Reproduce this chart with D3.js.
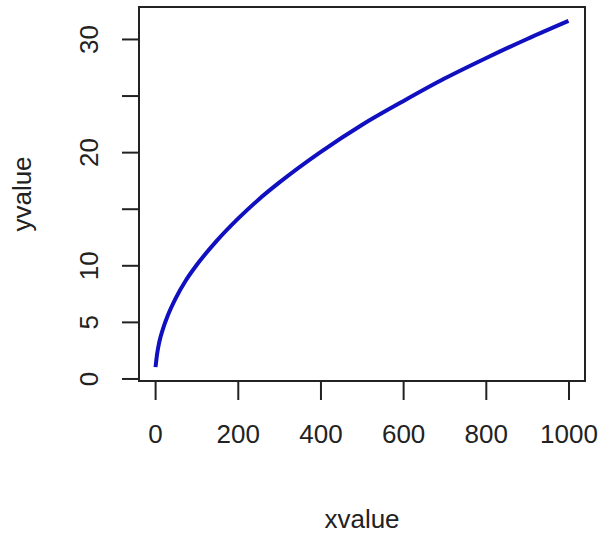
<!DOCTYPE html>
<html>
<head>
<meta charset="utf-8">
<script src="https://cdn.jsdelivr.net/npm/d3@7"></script>
<style>
  body { margin: 0; background: #fff; }
  svg text { font-family: "Liberation Sans", Arial, sans-serif; fill: #222; }
</style>
</head>
<body>
<div id="chart"></div>
<script>
// values
const xValues = [1, 5, 10, 20, 30, 50, 75, 100, 150, 200, 250, 300, 400, 500, 600, 700, 800, 900, 1000];
const yValues = [1, 2.2, 3.2, 4.5, 5.5, 7.1, 8.7, 10, 12.2, 14.1, 15.8, 17.3, 20, 22.4, 24.5, 26.5, 28.3, 30, 31.6];
const xTicks = [0, 200, 400, 600, 800, 1000];
const yTicks = [0, 5, 10, 15, 20, 25, 30];
const yLabelled = [0, 5, 10, 20, 30];

const w = 600;
const h = 535;
const box = {left: 139, right: 585, top: 7, bottom: 381};

const points = xValues.map((x, i) => ({x: x, y: yValues[i]}));

//R style 4% padding around the data range
const xPad = (d3.max(xValues) - d3.min(xValues)) * 0.04;
const yPad = (d3.max(yValues) - d3.min(yValues)) * 0.04;

const xScale = d3.scaleLinear()
    .domain([d3.min(xValues) - xPad, d3.max(xValues) + xPad])
    .range([box.left, box.right]);

const yScale = d3.scaleLinear()
    .domain([d3.min(yValues) - yPad, d3.max(yValues) + yPad])
    .range([box.bottom, box.top]);

const svg = d3.select("#chart")
    .append("svg")
    .attr("width", w)
    .attr("height", h);

//x axis, ticks only between 0 and 1000
const xAxis = svg.append("g")
    .attr("transform", "translate(0," + box.bottom + ")")
    .call(d3.axisBottom(xScale).tickValues(xTicks).tickSize(19).tickPadding(25).tickFormat(d3.format("d")));
xAxis.select(".domain")
    .attr("d", "M" + xScale(0) + ",0H" + xScale(1000));

//y axis
const yAxis = svg.append("g")
    .attr("transform", "translate(" + box.left + ",0)")
    .call(d3.axisLeft(yScale).tickValues(yTicks).tickSize(17).tickFormat(d => yLabelled.includes(d) ? d : ""));
yAxis.select(".domain")
    .attr("d", "M0," + yScale(0) + "V" + yScale(30));

svg.selectAll(".tick line")
    .attr("stroke", "#222")
    .attr("stroke-width", 2);
svg.selectAll(".domain")
    .attr("stroke", "#222")
    .attr("stroke-width", 2);
svg.selectAll(".tick text")
    .style("font-size", "26px")
    .attr("fill", "#222");

//y tick labels rotated like R
yAxis.selectAll(".tick text")
    .attr("x", null)
    .attr("dy", null)
    .attr("text-anchor", "middle")
    .attr("transform", "translate(-41,0) rotate(-90)");

//frame
svg.append("rect")
    .attr("x", box.left)
    .attr("y", box.top)
    .attr("width", box.right - box.left)
    .attr("height", box.bottom - box.top)
    .attr("fill", "none")
    .attr("stroke", "#222")
    .attr("stroke-width", 2);

//the curve
const line = d3.line()
    .x(d => xScale(d.x))
    .y(d => yScale(d.y))
    .curve(d3.curveMonotoneX);

svg.append("path")
    .datum(points)
    .attr("d", line)
    .attr("fill", "none")
    .attr("stroke", "#1010c0")
    .attr("stroke-width", 4);

//axis titles
svg.append("text")
    .attr("x", (box.left + box.right) / 2)
    .attr("y", 528)
    .attr("text-anchor", "middle")
    .style("font-size", "26px")
    .text("xvalue");

svg.append("text")
    .attr("transform", "translate(31," + ((box.top + box.bottom) / 2) + ") rotate(-90)")
    .attr("text-anchor", "middle")
    .style("font-size", "26px")
    .text("yvalue");
</script>
</body>
</html>
